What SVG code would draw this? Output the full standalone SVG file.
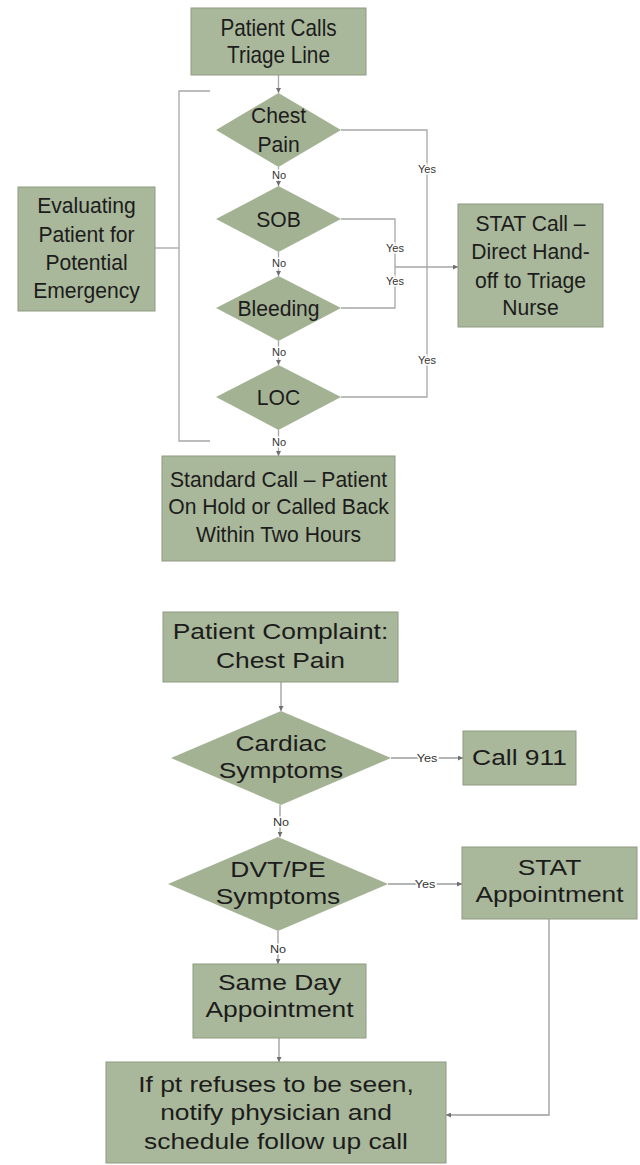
<svg xmlns="http://www.w3.org/2000/svg" width="640" height="1165" viewBox="0 0 640 1165">
<style>
.box{fill:#a9b79a;stroke:#8e9b82;stroke-width:1}
.dia{fill:#a4b294;stroke:none}
.t{font-family:"Liberation Sans",Arial,sans-serif;font-size:22px;fill:#1c1c1c;text-anchor:middle}
.big{font-size:23px}
.lbl{font-family:"Liberation Sans",Arial,sans-serif;font-size:11px;fill:#333;text-anchor:middle;stroke:#fff;stroke-width:3px;paint-order:stroke}
.ln{fill:none;stroke:#a6a6a6;stroke-width:1.3}
.ln2{fill:none;stroke:#9c9c9c;stroke-width:1.3}
</style>
<defs>
<marker id="ah" viewBox="0 0 6 6" markerWidth="5" markerHeight="5" refX="6" refY="3" orient="auto" markerUnits="userSpaceOnUse">
<path d="M0,0 L6,3 L0,6 z" fill="#6f6f6f"/>
</marker>
</defs>

<g id="connectors">
<path class="ln" d="M278.5,75 V93" marker-end="url(#ah)"/>
<path class="ln" d="M210,91 H179 V441 H210"/>
<path class="ln" d="M155,248 H179"/>
<path class="ln" d="M278.5,167 V186" marker-end="url(#ah)"/>
<path class="ln" d="M278.5,252 V276" marker-end="url(#ah)"/>
<path class="ln" d="M278.5,341 V365" marker-end="url(#ah)"/>
<path class="ln" d="M278.5,430 V456" marker-end="url(#ah)"/>
<path class="ln" d="M341,130 H427 V397 H341"/>
<path class="ln" d="M341,219 H395 V308 H341"/>
<path class="ln" d="M395,267 H458" marker-end="url(#ah)"/>
<path class="ln2" d="M281,682 V711" marker-end="url(#ah)"/>
<path class="ln2" d="M391,758 H463" marker-end="url(#ah)"/>
<path class="ln2" d="M280,805 V837" marker-end="url(#ah)"/>
<path class="ln2" d="M388,884 H462" marker-end="url(#ah)"/>
<path class="ln2" d="M278,931 V964" marker-end="url(#ah)"/>
<path class="ln2" d="M279,1038 V1062" marker-end="url(#ah)"/>
<path class="ln2" d="M549,919 V1115 H446" marker-end="url(#ah)"/>
<g id="labels">
<text class="lbl" x="279" y="179">No</text>
<text class="lbl" x="279" y="267">No</text>
<text class="lbl" x="279" y="356">No</text>
<text class="lbl" x="279" y="446">No</text>
<text class="lbl" x="427" y="173">Yes</text>
<text class="lbl" x="427" y="364">Yes</text>
<text class="lbl" x="395" y="252">Yes</text>
<text class="lbl" x="395" y="285">Yes</text>
<text class="lbl" x="427" y="762" transform="translate(427,0) scale(1.15,1) translate(-427,0)">Yes</text>
<text class="lbl" x="281" y="826" transform="translate(281,0) scale(1.15,1) translate(-281,0)">No</text>
<text class="lbl" x="425" y="888" transform="translate(425,0) scale(1.15,1) translate(-425,0)">Yes</text>
<text class="lbl" x="278" y="953" transform="translate(278,0) scale(1.15,1) translate(-278,0)">No</text>
</g>
</g>

<g id="n-triage-line">
<rect class="box" x="191" y="8" width="175" height="67"/>
<g transform="translate(278.5,0) scale(0.9,1)">
<text class="t big" x="0" y="36">Patient Calls</text>
<text class="t big" x="0" y="63">Triage Line</text>
</g>
</g>

<g id="n-evaluating">
<rect class="box" x="18" y="187" width="137" height="124"/>
<g transform="translate(86.5,0) scale(0.96,1)">
<text class="t" x="0" y="213">Evaluating</text>
<text class="t" x="0" y="242">Patient for</text>
<text class="t" x="0" y="270">Potential</text>
<text class="t" x="0" y="298">Emergency</text>
</g>
</g>

<g id="n-chest-pain">
<polygon class="dia" points="278.5,93 341,130 278.5,167 216,130"/>
<g transform="translate(278.5,0) scale(0.96,1)">
<text class="t" x="0" y="123">Chest</text>
<text class="t" x="0" y="152">Pain</text>
</g>
</g>

<g id="n-sob">
<polygon class="dia" points="278.5,186 341,219 278.5,252 216,219"/>
<text class="t" x="0" y="227" transform="translate(278.5,0) scale(0.96,1)">SOB</text>
</g>

<g id="n-bleeding">
<polygon class="dia" points="278.5,276 341,308 278.5,341 216,308"/>
<text class="t" x="0" y="316" transform="translate(278.5,0) scale(0.96,1)">Bleeding</text>
</g>

<g id="n-loc">
<polygon class="dia" points="278.5,365 341,397 278.5,430 216,397"/>
<text class="t" x="0" y="405" transform="translate(278.5,0) scale(0.96,1)">LOC</text>
</g>

<g id="n-stat-call">
<rect class="box" x="458" y="204" width="145" height="123"/>
<g transform="translate(530.5,0) scale(0.96,1)">
<text class="t" x="0" y="231">STAT Call –</text>
<text class="t" x="0" y="259">Direct Hand-</text>
<text class="t" x="0" y="288">off to Triage</text>
<text class="t" x="0" y="315">Nurse</text>
</g>
</g>

<g id="n-standard-call">
<rect class="box" x="162" y="456" width="233" height="105"/>
<g transform="translate(278.5,0) scale(0.96,1)">
<text class="t" x="0" y="487">Standard Call – Patient</text>
<text class="t" x="0" y="514">On Hold or Called Back</text>
<text class="t" x="0" y="542">Within Two Hours</text>
</g>
</g>

<g id="n-complaint">
<rect class="box" x="163" y="612" width="235" height="70"/>
<g transform="translate(280.5,0) scale(1.2,1)">
<text class="t" x="0" y="639">Patient Complaint:</text>
<text class="t" x="0" y="668">Chest Pain</text>
</g>
</g>

<g id="n-cardiac">
<polygon class="dia" points="281,711 391,758 281,805 171,758"/>
<g transform="translate(281,0) scale(1.2,1)">
<text class="t" x="0" y="751">Cardiac</text>
<text class="t" x="0" y="778">Symptoms</text>
</g>
</g>

<g id="n-call-911">
<rect class="box" x="463" y="731" width="113" height="54"/>
<text class="t" x="0" y="765" transform="translate(519.5,0) scale(1.2,1)">Call 911</text>
</g>

<g id="n-dvt">
<polygon class="dia" points="278,837 388,884 278,931 168,884"/>
<g transform="translate(278,0) scale(1.2,1)">
<text class="t" x="0" y="877">DVT/PE</text>
<text class="t" x="0" y="904">Symptoms</text>
</g>
</g>

<g id="n-stat-appointment">
<rect class="box" x="462" y="847" width="175" height="72"/>
<g transform="translate(549.5,0) scale(1.2,1)">
<text class="t" x="0" y="875">STAT</text>
<text class="t" x="0" y="902">Appointment</text>
</g>
</g>

<g id="n-same-day">
<rect class="box" x="193" y="964" width="173" height="74"/>
<g transform="translate(279.5,0) scale(1.2,1)">
<text class="t" x="0" y="990">Same Day</text>
<text class="t" x="0" y="1017">Appointment</text>
</g>
</g>

<g id="n-final">
<rect class="box" x="106" y="1062" width="340" height="101"/>
<g transform="translate(276,0) scale(1.2,1)">
<text class="t" x="0" y="1092">If pt refuses to be seen,</text>
<text class="t" x="0" y="1120">notify physician and</text>
<text class="t" x="0" y="1149">schedule follow up call</text>
</g>
</g>
</svg>
